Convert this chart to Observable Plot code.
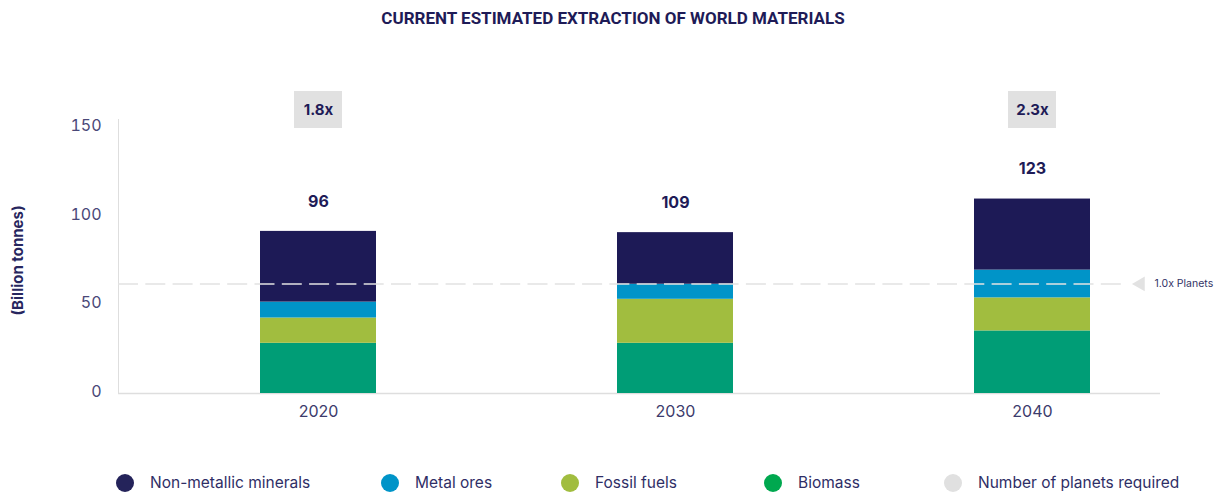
<!DOCTYPE html>
<html>
<head>
<meta charset="utf-8">
<script src="https://cdn.jsdelivr.net/npm/d3@7"></script>
<script src="https://cdn.jsdelivr.net/npm/@observablehq/plot@0.6"></script>
<style>
  body { margin: 0; background: #fff; font-family: Inter, "Liberation Sans", sans-serif; }
  #title { height: 36px; line-height: 36px; text-align: center; font-family: Roboto, sans-serif; font-weight: 700; font-size: 17px; color: #1e1b57; }
  #chart svg { display: block; }
  #legend { position: relative; height: 37px; overflow: hidden; }
  .item { position: absolute; top: 18px; display: flex; align-items: center; }
  .sw { width: 18px; height: 18px; border-radius: 50%; margin-right: 16px; flex: none; }
  .lab { font-size: 15.5px; color: #2f2e66; line-height: 18px; white-space: nowrap; }
</style>
</head>
<body>
<div id="title"></div>
<div id="chart"></div>
<div id="legend"></div>
<script>
const title = "CURRENT ESTIMATED EXTRACTION OF WORLD MATERIALS";
const years = ["2020", "2030", "2040"];
const series = ["Biomass", "Fossil fuels", "Metal ores", "Non-metallic minerals"];
const biomass = [28.4, 28.4, 35.4];
const fossilFuels = [14.3, 24.9, 18.7];
const metalOres = [9.0, 8.5, 15.7];
const nonMetallic = [40.0, 29.2, 40.2];
const totalLabels = ["96", "109", "123"];
const multiplierLabels = ["1.8x", null, "2.3x"];
const planetLevel = 62;
const planetLabel = "1.0x Planets";
const yTicks = [0, 50, 100, 150];
const yLabel = "(Billion tonnes)";
const barColors = ["#009d76", "#a1bd3f", "#0094c8", "#1d1a56"];
const legendLabels = ["Non-metallic minerals", "Metal ores", "Fossil fuels", "Biomass", "Number of planets required"];
const legendColors = ["#24235a", "#0094c8", "#a1bd3f", "#00a84f", "#e0e0e0"];

// legend layout (pixel offsets of each legend item)
const legendLeft = [116, 381, 561, 764, 944];

document.getElementById("title").textContent = title;

const valuesBySeries = [biomass, fossilFuels, metalOres, nonMetallic];
const stacked = [];
years.forEach((yr, i) => series.forEach((s, j) => stacked.push({year: yr, series: s, value: valuesBySeries[j][i]})));
const totals = years.map((yr, i) => ({year: yr, total: valuesBySeries.reduce((a, arr) => a + arr[i], 0), label: totalLabels[i]}));
const mults = years.map((yr, i) => ({year: yr, label: multiplierLabels[i]})).filter(d => d.label);

function boxMark(index, scales, values, dimensions) {
  const s = scales.x;
  const f = typeof s === "function" ? s : (v) => s.apply(v);
  const bw = typeof s.bandwidth === "function" ? s.bandwidth() : s.bandwidth;
  const g = d3.create("svg:g");
  for (const d of mults) {
    const cx = f(d.year) + bw / 2;
    g.append("rect")
      .attr("x", cx - 24).attr("y", dimensions.marginTop - 28)
      .attr("width", 48).attr("height", 37)
      .attr("fill", "#e1e1e1");
  }
  return g.node();
}

const chart = Plot.plot({
  width: 1226,
  height: 420,
  marginLeft: 118,
  marginRight: 66,
  marginTop: 83,
  marginBottom: 63,
  style: {fontFamily: "Inter, 'Liberation Sans', sans-serif", fontSize: "16px", background: "#fff"},
  x: {domain: years, paddingInner: 0.6755, paddingOuter: 0.295, align: 0.6706, label: null},
  y: {domain: [0, 155], label: null},
  color: {domain: series, range: barColors},
  marks: [
    Plot.frame({anchor: "left", stroke: "#dedede"}),
    Plot.ruleY([0], {stroke: "#dedede", strokeWidth: 1.5}),
    Plot.barY(stacked, {x: "year", y: "value", fill: "series"}),
    Plot.ruleY([planetLevel], {stroke: "#e2e2e2", strokeWidth: 1.5, strokeDasharray: "20,7.3", insetRight: 32}),
    Plot.dot([planetLevel], {y: (d) => d, frameAnchor: "right", dx: -20, symbol: "triangle", rotate: -90, r: 5.5, fill: "#e2e2e2", stroke: null}),
    Plot.text([planetLabel], {y: () => planetLevel, text: (d) => d, frameAnchor: "right", textAnchor: "start", dx: -6, fontSize: 10.5, fill: "#333366"}),
    Plot.axisY({ticks: yTicks, tickSize: 0, tickPadding: 17, color: "#4a4878", fontSize: 16, dy: -2, label: null}),
    Plot.axisX({tickSize: 0, tickPadding: 12, color: "#3c3b6c", fontSize: 16, label: null}),
    Plot.text([yLabel], {text: (d) => d, frameAnchor: "left", textAnchor: "middle", rotate: -90, dx: -100, dy: 4, fontWeight: 700, fontSize: 15, fill: "#27265e"}),
    Plot.text(totals, {x: "year", y: "total", text: "label", dy: -30, fontWeight: 700, fontSize: 16, fill: "#1e1b57"}),
    boxMark,
    Plot.text(mults, {x: "year", text: "label", frameAnchor: "top", lineAnchor: "middle", dy: -9.5, fontWeight: 700, fontSize: 15, fill: "#1e1b57"})
  ]
});
document.getElementById("chart").appendChild(chart);

const legend = document.getElementById("legend");
legendLabels.forEach((l, i) => {
  const it = document.createElement("div"); it.className = "item"; it.style.left = legendLeft[i] + "px";
  const sw = document.createElement("div"); sw.className = "sw"; sw.style.background = legendColors[i];
  const tx = document.createElement("div"); tx.className = "lab"; tx.textContent = l;
  it.appendChild(sw); it.appendChild(tx); legend.appendChild(it);
});
</script>
</body>
</html>
